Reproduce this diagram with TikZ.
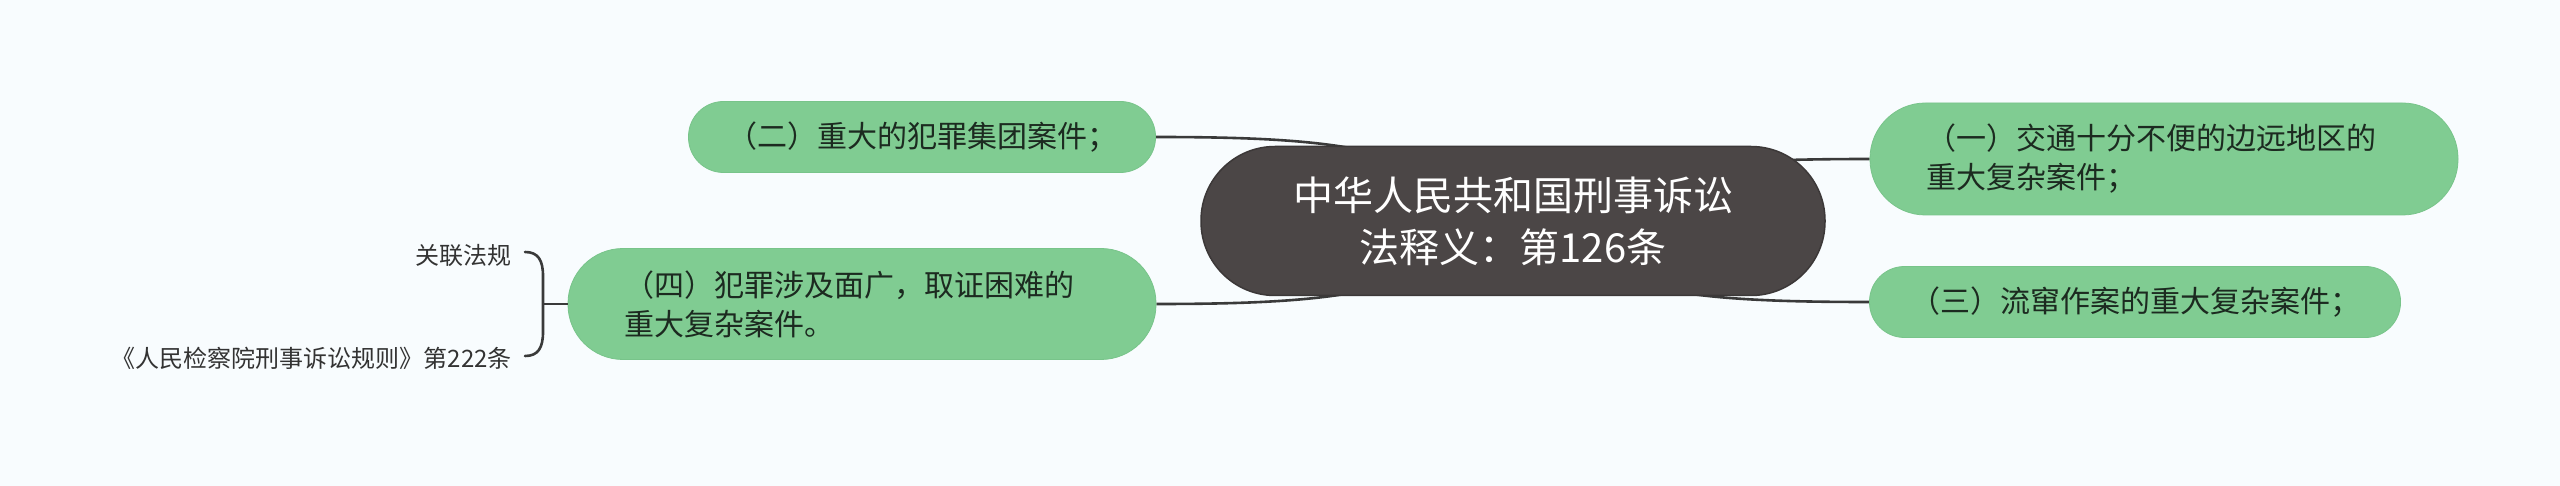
\documentclass[tikz,border=0pt]{standalone}
\usepackage{fontspec}
\setmainfont{Noto Sans CJK SC}
\definecolor{bgcol}{HTML}{F8FCFE}
\definecolor{leafgreen}{HTML}{80CC92}
\definecolor{leafedge}{HTML}{78C48A}
\definecolor{leaftext}{HTML}{1C2A20}
\definecolor{centerfill}{HTML}{4B4646}
\definecolor{centeredge}{HTML}{3C3838}
\definecolor{linegray}{HTML}{3A3A3A}
\definecolor{reltextcol}{HTML}{333333}
\pgfdeclarelayer{bg}
\pgfsetlayers{bg,main}
\begin{document}
\begin{tikzpicture}[x=1pt,y=-1pt,
  leaf/.style={rectangle, fill=leafgreen, draw=leafedge, line width=0.8pt, inner sep=0pt,
    text=leaftext, font=\fontsize{30}{39}\selectfont},
  centerbox/.style={rectangle, fill=centerfill, draw=centeredge, line width=1.5pt, inner sep=0pt,
    text=white, align=center, font=\fontsize{40}{52}\selectfont,
    minimum width=624pt, minimum height=149pt, rounded corners=74pt},
  reltext/.style={anchor=east, inner sep=0pt, text=reltextcol, font=\fontsize{24}{30}\selectfont},
  conn/.style={draw=linegray, line width=2.6pt},
  bracestyle/.style={draw=linegray, line width=2.6pt, line cap=round}]

\node[centerbox] (center) at (1513,221) {中华人民共和国刑事诉讼\\法释义：第126条};

\node[leaf, minimum width=467pt, minimum height=71pt, rounded corners=35pt] (c2) at (922,137) {（二）重大的犯罪集团案件；};
\node[leaf, minimum width=588pt, minimum height=111pt, rounded corners=55pt, text width=476pt, align=left] (c4) at (862,304) {（四）犯罪涉及面广，取证困难的\\重大复杂案件。};
\node[leaf, minimum width=588pt, minimum height=112pt, rounded corners=55.5pt, text width=476pt, align=left] (c1) at (2164,159) {（一）交通十分不便的边远地区的\\重大复杂案件；};
\node[leaf, minimum width=531pt, minimum height=71pt, rounded corners=35pt] (c3) at (2135,302) {（三）流窜作案的重大复杂案件；};

\node[reltext] (r1) at (512,255) {关联法规};
\node[reltext] (r2) at (512,358) {《人民检察院刑事诉讼规则》第222条};

\coordinate (bm) at (543,304);

\begin{pgfonlayer}{bg}
  \fill[bgcol] (0,0) rectangle (2560,486);
  \draw[conn] (c2.east) .. controls +(194,0) and +(-93,-71) .. (center.center);
  \draw[conn] (c1.west) .. controls +(-194,0) and +(93,-49) .. (center.center);
  \draw[conn] (c4.east) .. controls +(194,0) and +(-93,70) .. (center.center);
  \draw[conn] (c3.west) .. controls +(-194,0) and +(93,69) .. (center.center);
\end{pgfonlayer}

\draw[bracestyle] (525,252) .. controls (538,252) and (543,260) .. (543,276) -- (543,332) .. controls (543,348) and (538,356) .. (525,356);
\draw[conn] (bm) -- (c4.west);

\useasboundingbox (0,0) rectangle (2560,486);
\end{tikzpicture}
\end{document}
